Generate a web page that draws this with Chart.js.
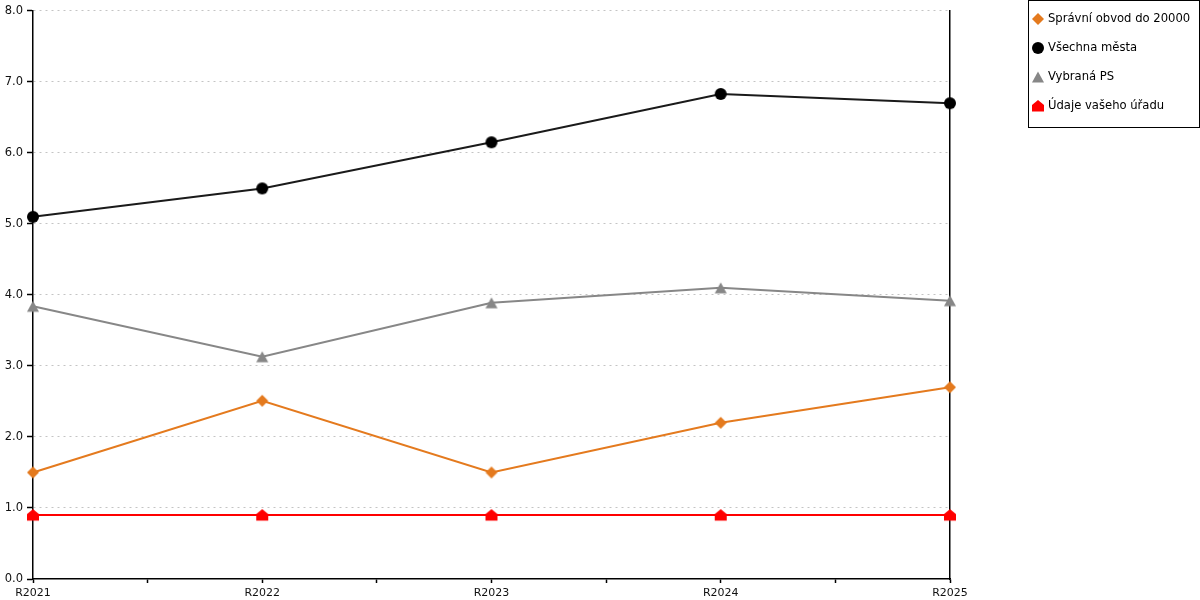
<!DOCTYPE html>
<html>
<head>
<meta charset="utf-8">
<script src="https://cdn.jsdelivr.net/npm/chart.js@4/dist/chart.umd.min.js"></script>
<style>
  body { margin: 0; background: #fff; }
  #chart { display: block; }
</style>
</head>
<body>
<canvas id="chart" width="1200" height="600"></canvas>
<script>
//categories and series values
const categories = ["R2021", "R2022", "R2023", "R2024", "R2025"];
const spravniObvod = [1.5, 2.51, 1.5, 2.2, 2.7];
const vsechnaMesta = [5.1, 5.5, 6.15, 6.83, 6.7];
const vybranaPS = [3.84, 3.13, 3.89, 4.1, 3.92];
const udajeUradu = [0.9, 0.9, 0.9, 0.9, 0.9];
const seriesNames = ["Správní obvod do 20000", "Všechna města", "Vybraná PS", "Údaje vašeho úřadu"];
const yTicks = [0, 1, 2, 3, 4, 5, 6, 7, 8];

const FONT = "'DejaVu Sans', Verdana, sans-serif";

//marker images (used by chart points and by the legend)
function makeMarker(shape, color) {
  const c = document.createElement("canvas");
  c.width = 16;
  c.height = 16;
  const g = c.getContext("2d");
  g.fillStyle = color;
  g.beginPath();
  if (shape === "diamond") {
    g.moveTo(8, 2); g.lineTo(14, 8); g.lineTo(8, 14); g.lineTo(2, 8);
  } else if (shape === "circle") {
    g.arc(8, 8, 6, 0, Math.PI * 2);
  } else if (shape === "triangle") {
    g.moveTo(8, 2.5); g.lineTo(14, 13.5); g.lineTo(2, 13.5);
  } else if (shape === "house") {
    g.moveTo(8, 2); g.lineTo(14, 7); g.lineTo(14, 13.5); g.lineTo(2, 13.5); g.lineTo(2, 7);
  }
  g.closePath();
  g.fill();
  return c;
}

const colors = ["#e47a1e", "#1a1a1a", "#878787", "#ff0000"];
const markers = [
  makeMarker("diamond", colors[0]),
  makeMarker("circle", "#000000"),
  makeMarker("triangle", colors[2]),
  makeMarker("house", colors[3]),
];

const toPoints = (arr) => arr.map((v, i) => ({ x: i, y: v }));

//legend in a bordered box on the right
const boxLegend = {
  id: "boxLegend",
  afterDraw(chart) {
    const ctx = chart.ctx;
    ctx.save();
    ctx.strokeStyle = "#000";
    ctx.lineWidth = 1;
    ctx.strokeRect(1028.5, 0.5, 171, 127);
    ctx.font = "11.6px " + FONT;
    ctx.fillStyle = "#000";
    ctx.textBaseline = "middle";
    seriesNames.forEach((name, i) => {
      const y = 19 + i * 29;
      ctx.drawImage(markers[i], 1030, y - 8);
      ctx.fillText(name, 1048, y);
    });
    ctx.restore();
  },
};

new Chart(document.getElementById("chart"), {
  type: "line",
  plugins: [boxLegend],
  data: {
    datasets: [
      { label: seriesNames[0], data: toPoints(spravniObvod), borderColor: colors[0], pointStyle: markers[0] },
      { label: seriesNames[1], data: toPoints(vsechnaMesta), borderColor: colors[1], pointStyle: markers[1] },
      { label: seriesNames[2], data: toPoints(vybranaPS), borderColor: colors[2], pointStyle: markers[2] },
      { label: seriesNames[3], data: toPoints(udajeUradu), borderColor: colors[3], pointStyle: markers[3] },
    ],
  },
  options: {
    responsive: false,
    animation: false,
    layout: { padding: { top: 10, right: 250, left: 0, bottom: 0 } },
    datasets: { line: { clip: false } },
    elements: {
      line: { borderWidth: 2, tension: 0, fill: false },
      point: { radius: 6, hoverRadius: 6 },
    },
    plugins: {
      legend: { display: false },
      tooltip: { enabled: false },
    },
    scales: {
      x: {
        type: "linear",
        min: 0,
        max: categories.length - 1,
        afterBuildTicks(scale) {
          //major ticks on categories, minor ticks in between
          const t = [];
          for (let i = 0; i <= (categories.length - 1) * 2; i++) t.push({ value: i / 2 });
          scale.ticks = t;
        },
        afterFit(scale) { scale.height = 21; },
        ticks: {
          autoSkip: false,
          maxRotation: 0,
          padding: 4,
          color: "#111",
          font: { family: FONT, size: 11 },
          callback: (v) => (Number.isInteger(v) ? categories[v] : ""),
        },
        grid: { drawOnChartArea: false, tickLength: 4, tickColor: "#000", tickWidth: 1.5 },
        border: { color: "#000", width: 1.5 },
      },
      y: {
        min: 0,
        max: 8,
        afterBuildTicks(scale) { scale.ticks = yTicks.map((v) => ({ value: v })); },
        afterFit(scale) { scale.width = 33; },
        ticks: {
          padding: 4,
          color: "#111",
          font: { family: FONT, size: 11.5 },
          callback: (v) => v.toFixed(1),
        },
        grid: {
          color: (c) => (c.tick && c.tick.value === 0 ? "rgba(0,0,0,0)" : "#c4c4c4"),
          lineWidth: 1,
          tickLength: 6,
          tickColor: "#000",
          tickWidth: 1.5,
        },
        border: { color: "#000", width: 1.5, dash: [2, 4] },
      },
      yRight: {
        position: "right",
        min: 0,
        max: 8,
        afterFit(scale) { scale.width = 0; },
        ticks: { display: false },
        grid: { drawOnChartArea: false, drawTicks: false },
        border: { color: "#000", width: 1.5 },
      },
    },
  },
});
</script>
</body>
</html>
